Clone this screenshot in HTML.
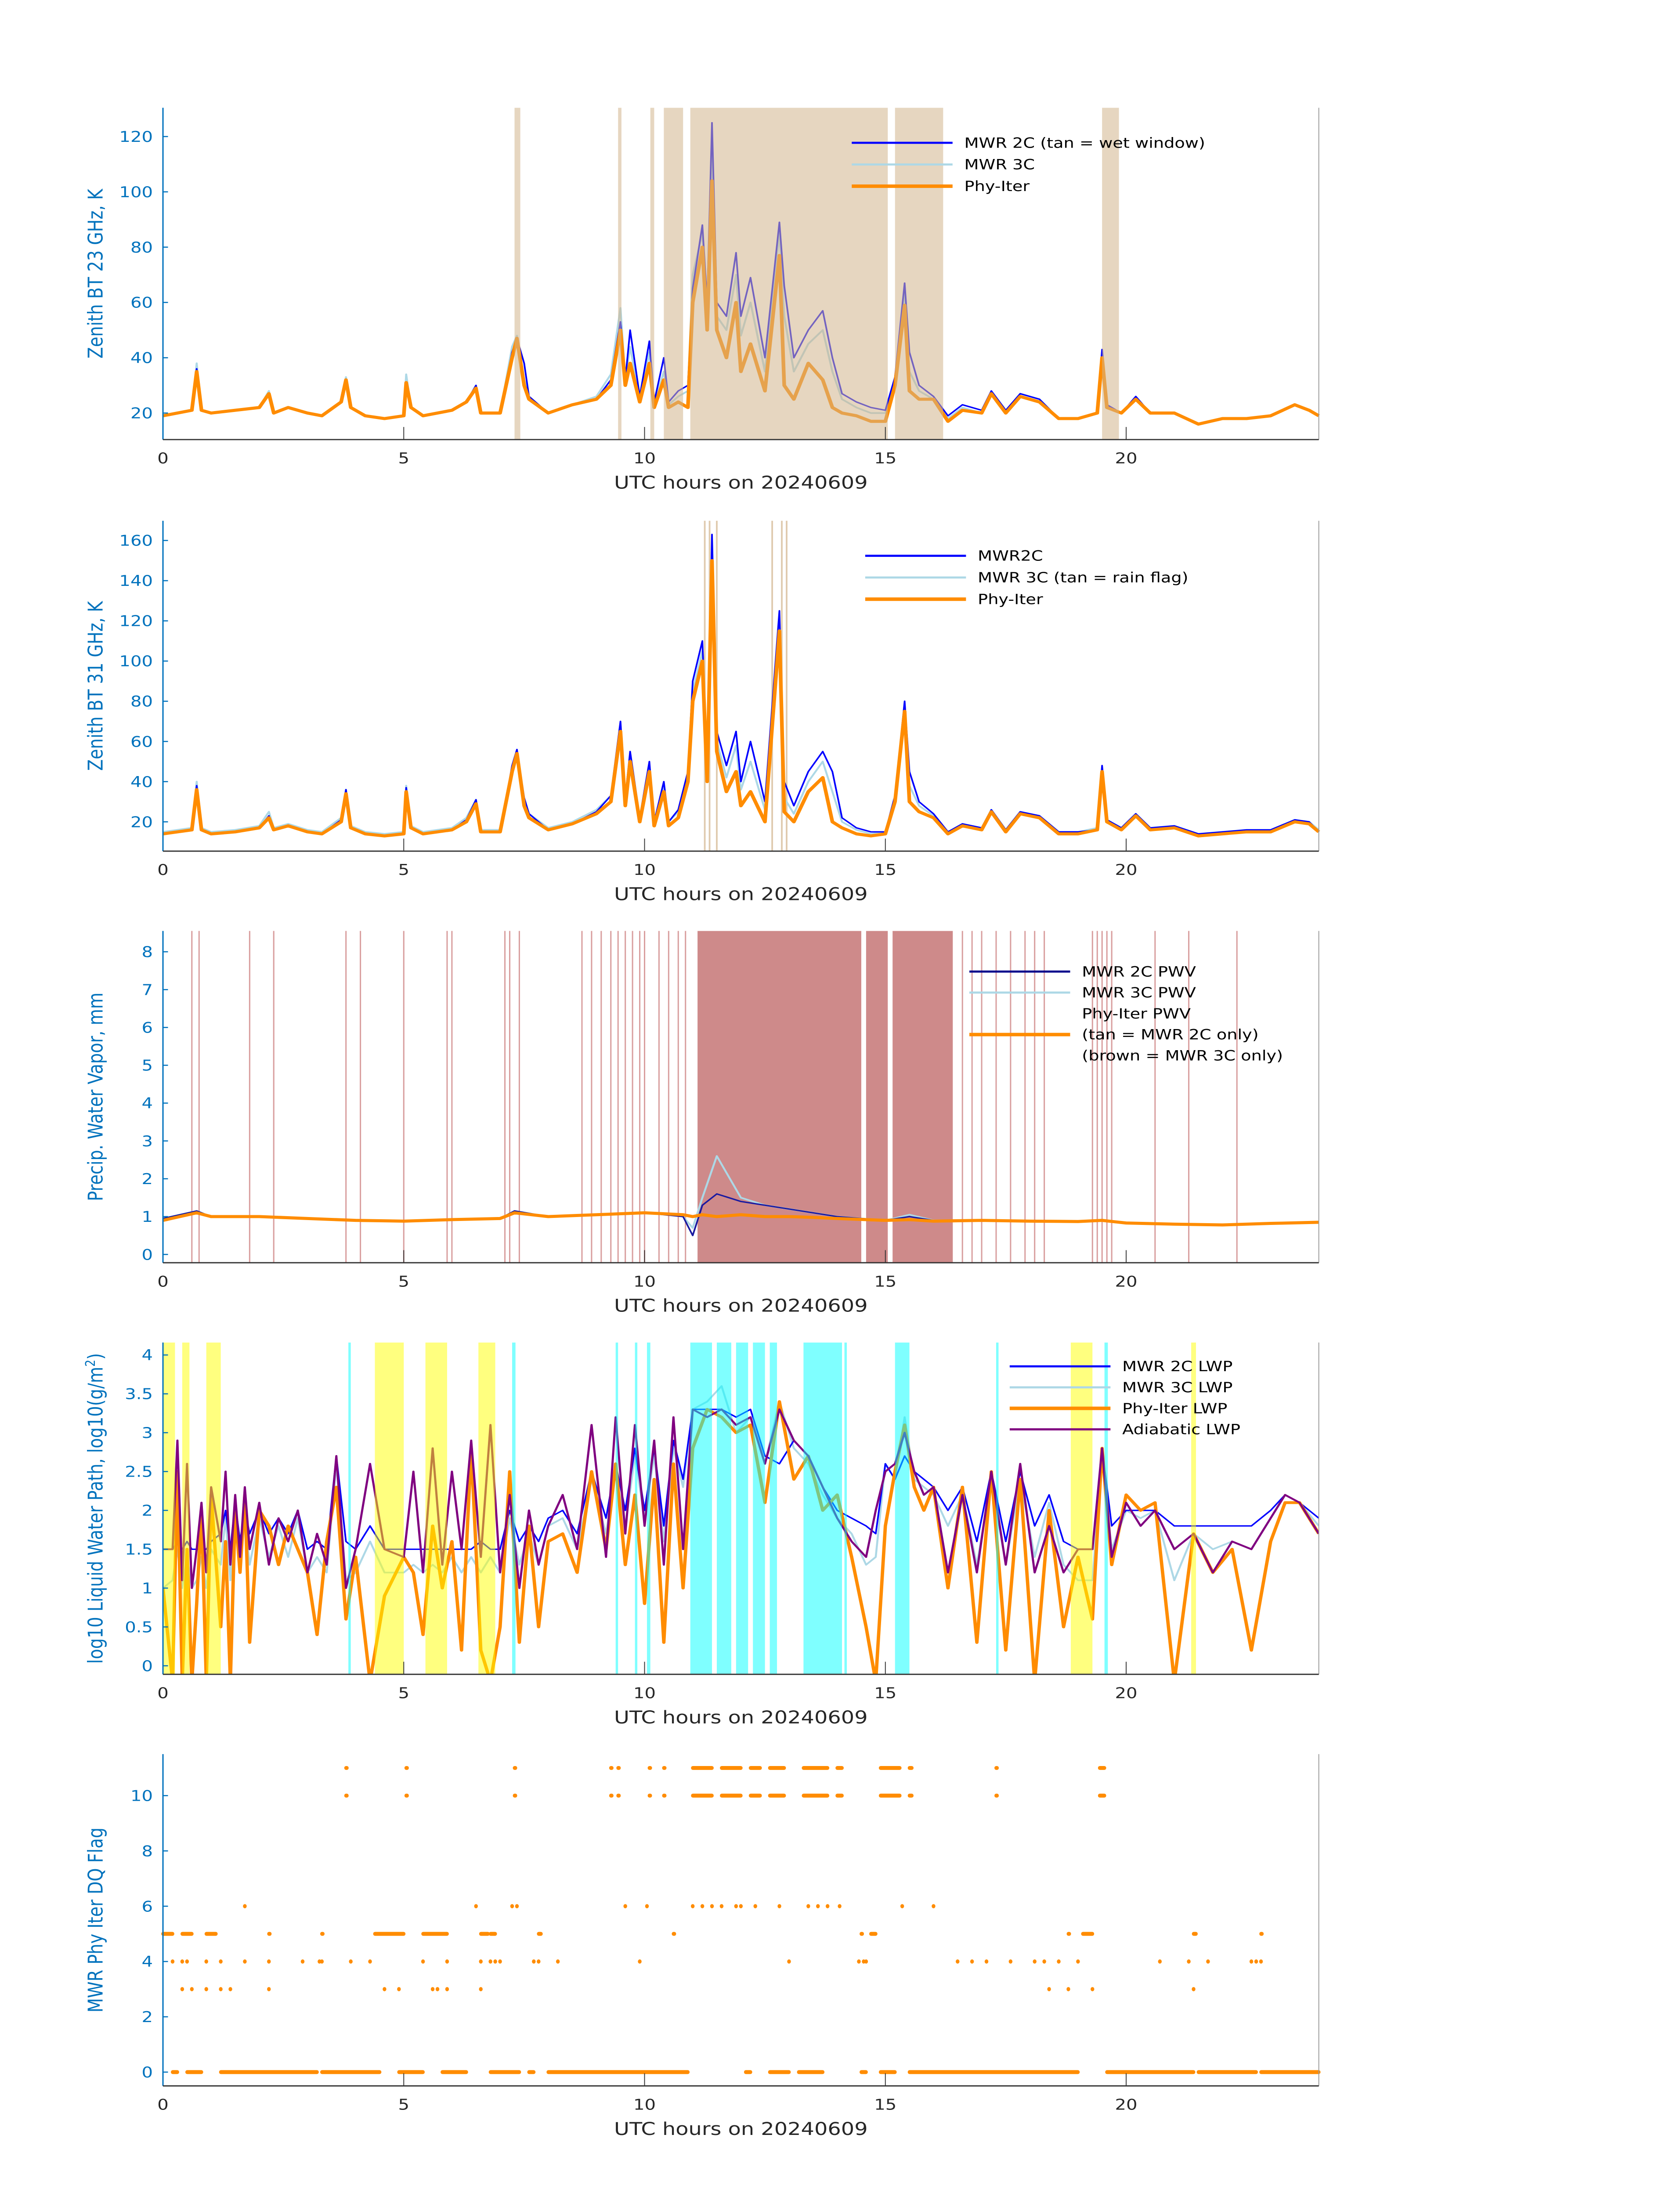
<!DOCTYPE html>
<html><head><meta charset="utf-8"><style>
html,body{margin:0;padding:0;background:#fff;width:100%;height:100%;overflow:hidden;}
svg{display:block;position:fixed;left:0;top:0;width:100vw;height:100vh;font-family:"DejaVu Sans","Liberation Sans",sans-serif;}
</style></head><body>
<svg id="fig" viewBox="0 0 1000 1568.63" preserveAspectRatio="none" xmlns="http://www.w3.org/2000/svg"></svg>
<script>
// ---------- DATA ----------
const hours1 = [0,0.3,0.6,0.7,0.8,1.0,1.5,2.0,2.2,2.3,2.6,3.0,3.3,3.7,3.8,3.9,4.2,4.6,5.0,5.05,5.15,5.4,6.0,6.3,6.5,6.6,7.0,7.25,7.35,7.5,7.6,8.0,8.5,9.0,9.3,9.5,9.6,9.7,9.9,10.1,10.2,10.4,10.5,10.7,10.9,11.0,11.2,11.3,11.4,11.5,11.7,11.9,12.0,12.2,12.5,12.8,12.9,13.1,13.4,13.7,13.9,14.1,14.4,14.7,15.0,15.2,15.4,15.5,15.7,16.0,16.3,16.6,17.0,17.2,17.5,17.8,18.2,18.6,19.0,19.4,19.5,19.6,19.9,20.2,20.5,21.0,21.5,22.0,22.5,23.0,23.5,23.8,24];
const bt23Phy = [19,20,21,35,21,20,21,22,27,20,22,20,19,24,32,22,19,18,19,31,22,19,21,24,29,20,20,40,47,30,25,20,23,25,30,50,30,38,24,38,22,32,22,24,22,60,80,50,104,50,40,60,35,45,28,77,30,25,38,32,22,20,19,17,17,30,59,28,25,25,17,21,20,27,20,26,24,18,18,20,40,22,20,25,20,20,16,18,18,19,23,21,19];
const bt23Mwr2c = [19,20,21,36,21,20,21,22,27,20,22,20,19,24,32,22,19,18,19,31,22,19,21,24,30,20,20,42,47,38,26,20,23,25,32,53,32,50,26,46,24,40,24,28,30,65,88,60,125,60,55,78,55,69,40,89,66,40,50,57,40,27,24,22,21,33,67,42,30,26,19,23,21,28,21,27,25,18,18,20,43,23,20,26,20,20,16,18,18,19,23,21,19];
const bt23Mwr3c = [19,20,21,38,21,20,21,22,28,20,22,20,19,24,33,22,19,18,19,34,22,19,21,24,30,20,20,44,48,32,26,20,23,26,34,58,32,44,25,42,23,35,23,26,28,70,85,55,118,55,50,70,48,60,35,85,55,35,45,50,35,25,22,20,20,32,63,35,28,25,18,22,20,27,20,27,25,18,18,20,42,22,20,25,20,20,16,18,18,19,23,21,19];
const wetWindowStart = [7.3,9.45,10.12,10.4,10.95,15.2,19.5];
const wetWindowEnd = [7.42,9.52,10.2,10.8,15.05,16.2,19.85];

const bt31Phy = [14,15,16,36,16,14,15,17,22,16,18,15,14,20,34,17,14,13,14,35,17,14,16,20,29,15,15,45,54,28,22,16,19,24,30,65,28,50,20,45,18,35,18,22,40,80,100,40,150,55,35,45,28,35,20,115,25,20,35,42,20,17,14,13,14,30,75,30,25,22,14,18,16,25,15,24,22,14,14,16,45,20,16,23,16,17,13,14,15,15,20,19,15];
const bt31Mwr2c = [14,15,16,38,16,14,15,17,23,16,18,15,14,21,36,17,14,13,14,37,17,14,16,21,31,15,15,48,56,32,24,16,19,25,33,70,32,55,22,50,20,40,20,26,45,90,110,50,163,65,48,65,40,60,30,125,40,28,45,55,45,22,17,15,15,33,80,45,30,24,15,19,17,26,16,25,23,15,15,16,48,21,17,24,17,18,14,15,16,16,21,20,15];
const bt31Mwr3c = [15,16,17,40,17,15,16,18,25,17,19,16,15,22,36,18,15,14,15,38,18,15,17,22,31,16,16,47,55,30,24,17,20,26,33,68,30,54,22,48,20,38,20,25,44,85,105,45,155,60,42,58,36,50,26,120,32,24,40,50,35,20,16,14,15,32,77,38,28,23,15,19,17,26,16,25,23,15,15,17,47,21,17,24,17,18,14,15,16,16,21,20,16];
const rainFlagHours = [11.25,11.35,11.5,12.65,12.85,12.95];

const hours3 = [0,0.7,1,2,3,4,5,6,7,7.3,8,9,10,10.8,11,11.2,11.5,12,12.5,13,13.5,14,15,15.5,16,17,18,19,19.5,20,21,22,23,24];
const pwvPhy = [0.9,1.1,1.0,1.0,0.95,0.9,0.88,0.92,0.95,1.1,1.0,1.05,1.1,1.05,1.0,1.05,1.0,1.05,1.0,1.0,0.98,0.95,0.9,0.92,0.88,0.9,0.88,0.87,0.9,0.83,0.8,0.78,0.82,0.85];
const pwv2c = [0.95,1.15,1.0,1.0,0.95,0.9,0.88,0.92,0.95,1.15,1.0,1.05,1.1,1.0,0.5,1.3,1.6,1.4,1.3,1.2,1.1,1.0,0.9,1.0,0.9,0.9,0.88,0.87,0.9,0.83,0.8,0.78,0.82,0.85];
const pwv3c = [0.95,1.15,1.0,1.0,0.95,0.9,0.88,0.92,0.95,1.15,1.0,1.05,1.12,1.0,0.7,1.5,2.6,1.5,1.3,1.2,1.1,1.0,0.9,1.05,0.9,0.9,0.88,0.87,0.92,0.83,0.8,0.78,0.82,0.85];
const brownStart = [11.1,14.6,15.15];
const brownEnd = [14.5,15.05,16.4];
const flagLineHours = [0.6,0.75,1.8,2.3,3.8,4.1,5.0,5.9,6.0,7.1,7.2,7.4,8.7,8.9,9.1,9.3,9.45,9.6,9.75,9.9,10.0,10.3,10.5,10.7,10.85,16.6,16.8,17.0,17.3,17.6,17.9,18.1,18.3,19.3,19.4,19.5,19.6,19.7,20.6,21.3,22.3];

const hours4 = [0,0.2,0.3,0.4,0.5,0.6,0.7,0.8,0.9,1.0,1.2,1.3,1.4,1.5,1.6,1.7,1.8,2.0,2.2,2.4,2.6,2.8,3.0,3.2,3.4,3.6,3.8,4.0,4.3,4.6,5.0,5.2,5.4,5.6,5.8,6.0,6.2,6.4,6.6,6.8,7.0,7.2,7.4,7.6,7.8,8.0,8.3,8.6,8.9,9.2,9.4,9.6,9.8,10.0,10.2,10.4,10.6,10.8,11.0,11.3,11.6,11.9,12.2,12.5,12.8,13.1,13.4,13.7,14.0,14.3,14.6,14.8,15.0,15.2,15.4,15.6,15.8,16.0,16.3,16.6,16.9,17.2,17.5,17.8,18.1,18.4,18.7,19.0,19.3,19.5,19.7,20.0,20.3,20.6,21.0,21.4,21.8,22.2,22.6,23.0,23.3,23.6,24];
const lwpAdiabatic = [1.5,1.5,2.9,1.1,2.6,1.0,1.5,2.1,1.2,2.3,1.6,2.5,1.3,2.2,1.4,2.3,1.5,2.1,1.3,1.9,1.6,2.0,1.2,1.7,1.3,2.7,1.0,1.5,2.6,1.5,1.4,2.5,1.2,2.8,1.3,2.5,1.5,2.9,1.4,3.1,1.2,2.2,1.0,2.0,1.3,1.8,2.2,1.5,3.1,1.4,3.2,1.7,3.1,1.8,2.9,1.3,3.2,1.5,3.3,3.2,3.3,3.1,3.2,2.6,3.3,2.9,2.7,2.3,1.9,1.6,1.4,2.0,2.5,2.6,3.0,2.5,2.2,2.3,1.2,2.2,1.2,2.5,1.3,2.6,1.2,1.8,1.2,1.5,1.5,2.8,1.4,2.1,1.8,2.0,1.5,1.7,1.2,1.6,1.5,1.9,2.2,2.1,1.7];
const lwpPhy = [1.0,-0.2,2.5,-0.2,1.5,-0.2,0.8,2.0,-0.2,2.2,0.5,1.6,-0.2,2.0,1.2,2.2,0.3,2.0,1.8,1.3,1.8,1.5,1.2,0.4,1.6,2.3,0.6,1.4,-0.2,0.9,1.4,1.2,0.4,1.8,1.0,1.6,0.2,2.8,0.2,-0.2,0.5,2.5,0.3,1.8,0.5,1.6,1.7,1.2,2.5,1.5,2.6,1.3,2.2,0.8,2.4,0.3,2.6,1.0,2.8,3.3,3.2,3.0,3.1,2.1,3.4,2.4,2.7,2.0,2.2,1.4,0.5,-0.2,1.8,2.5,3.1,2.3,2.0,2.3,1.0,2.3,0.3,2.5,0.2,2.4,-0.2,2.0,0.5,1.4,0.6,2.8,1.3,2.2,2.0,2.1,-0.2,1.7,1.2,1.5,0.2,1.6,2.1,2.1,1.7];
const lwp2c = [1.5,1.5,1.6,1.5,1.6,1.5,1.5,1.5,1.5,1.6,1.7,2.0,1.5,2.1,1.6,2.0,1.7,2.0,1.7,1.9,1.7,2.0,1.5,1.6,1.5,2.7,1.6,1.5,1.8,1.5,1.5,1.5,1.5,1.5,1.5,1.5,1.5,1.5,1.6,1.5,1.5,2.0,1.6,1.8,1.6,1.9,2.0,1.7,2.5,1.9,2.6,2.0,2.8,2.0,2.8,1.8,2.9,2.4,3.3,3.3,3.3,3.2,3.3,2.7,2.6,2.9,2.7,2.3,2.0,1.9,1.8,1.7,2.6,2.4,2.7,2.5,2.4,2.3,2.0,2.3,1.6,2.5,1.6,2.5,1.8,2.2,1.6,1.5,1.5,2.8,1.8,2.0,2.0,2.0,1.8,1.8,1.8,1.8,1.8,2.0,2.2,2.1,1.9];
const lwp3c = [1.0,1.1,1.5,1.0,1.4,1.0,1.1,1.4,1.0,1.5,1.3,1.9,1.1,2.0,1.3,1.9,1.3,1.9,1.4,1.8,1.4,1.9,1.2,1.4,1.2,2.6,1.1,1.2,1.6,1.2,1.2,1.3,1.2,1.3,1.2,1.4,1.2,1.4,1.2,1.4,1.2,1.9,1.3,1.7,1.3,1.8,1.9,1.5,2.4,1.7,2.5,1.8,2.7,1.9,2.7,1.6,2.8,2.3,3.3,3.4,3.6,3.0,3.2,2.6,3.4,2.8,2.6,2.2,1.9,1.7,1.3,1.4,2.6,2.4,3.2,2.4,2.3,2.2,1.8,2.2,1.3,2.4,1.3,2.4,1.4,2.1,1.3,1.1,1.1,2.7,1.5,2.0,1.9,2.0,1.1,1.7,1.5,1.6,1.5,1.9,2.2,2.1,1.8];
const yellowStart = [0,0.4,0.9,4.4,5.45,6.55,18.85,21.35];
const yellowEnd = [0.25,0.55,1.2,5.0,5.9,6.9,19.3,21.45];
const cyanStart = [3.85,7.25,9.4,9.8,10.05,10.95,11.5,11.9,12.25,12.6,13.3,14.15,15.2,17.3,19.55];
const cyanEnd = [3.9,7.32,9.45,9.85,10.12,11.4,11.8,12.15,12.5,12.75,14.1,14.2,15.5,17.35,19.62];

const flagLevels = [0,3,4,5,6,10,11];
const flag0Start = [0.2,0.5,1.2,3.3,4.9,5.8,6.8,7.6,8.0,12.1,12.6,13.2,14.5,14.9,15.5,19.6,21.5,22.8];
const flag0End = [0.3,0.8,3.2,4.5,5.4,6.3,7.4,7.7,10.9,12.2,13.0,13.7,14.6,15.2,19.0,21.4,22.7,24];
const flag3Hours = [0.4,0.6,0.9,1.2,1.4,2.2,4.6,4.9,5.6,5.7,5.9,6.6,18.4,18.8,19.3,21.4];
const flag4Hours = [0.2,0.4,0.5,0.9,1.2,1.7,2.2,2.9,3.25,3.3,3.9,4.3,5.4,5.9,6.6,6.8,6.9,7.0,7.7,7.8,8.2,9.9,13.0,14.45,14.55,14.6,16.5,16.8,17.1,17.6,18.1,18.3,18.6,19.0,20.7,21.3,21.7,22.6,22.7,22.8];
const flag5Start = [0,0.4,0.9,2.2,3.3,4.4,5.4,6.6,6.8,7.8,10.6,14.5,14.7,18.8,19.1,21.4,22.8];
const flag5End = [0.2,0.6,1.1,2.22,3.32,5.0,5.9,6.75,6.9,7.85,10.62,14.52,14.8,18.82,19.3,21.45,22.82];
const flag6Hours = [1.7,6.5,7.25,7.35,9.6,10.05,11.0,11.2,11.4,11.6,11.9,12.0,12.3,12.8,13.4,13.6,13.8,14.05,15.35,16.0];
const flag10Start = [3.8,5.05,7.3,9.3,9.45,10.1,10.4,11.0,11.6,12.2,12.6,13.3,14.0,14.9,15.5,17.3,19.45];
const flag10End = [3.82,5.07,7.32,9.32,9.47,10.12,10.42,11.4,12.0,12.4,12.9,13.8,14.1,15.3,15.55,17.32,19.55];
const flag11Start = flag10Start;
const flag11End = flag10End;

// ---------- DRAWING ----------
const svg = document.getElementById('fig');
const NS = 'http://www.w3.org/2000/svg';
const X0 = 97, X1 = 785;
function xs(t){ return X0 + t*(X1-X0)/24; }
function mk(tag, attrs, parent){
  const e = document.createElementNS(NS, tag);
  for (const k in attrs) e.setAttribute(k, attrs[k]);
  (parent||svg).appendChild(e);
  return e;
}
function makeY(top,bottom,vTop,vBot){ return v => bottom - (v - vBot)*(bottom-top)/(vTop-vBot); }

function panelFrame(g, top, bottom, ys, ticks, tickLabels, title, pname){
  const ax = mk('line',{x1:X0,y1:top,x2:X0,y2:bottom,stroke:'#0072bd','stroke-width':0.8},g);
  
  
  const rx = mk('line',{x1:X1,y1:top,x2:X1,y2:bottom,stroke:'#999','stroke-width':0.5},g);
  
  
  const bx = mk('line',{x1:X0,y1:bottom,x2:X1,y2:bottom,stroke:'#333','stroke-width':0.9},g);
  
  
  ticks.forEach((v,i)=>{
    const y = ys(v);
    mk('line',{x1:X0,y1:y,x2:X0+3,y2:y,stroke:'#0072bd','stroke-width':0.8},g);
    const t = mk('text',{x:X0-6,y:y+3.8,'font-size':10.5,'text-anchor':'end',fill:'#0072bd'},g);
    t.textContent = tickLabels[i];
    
    
  });
  [0,5,10,15,20].forEach(h=>{
    const x = xs(h);
    if (h>0) mk('line',{x1:x,y1:bottom,x2:x,y2:bottom-9,stroke:'#333','stroke-width':0.5},g);
    const t = mk('text',{x:x,y:bottom+17,'font-size':10.5,'text-anchor':'middle',fill:'#262626'},g);
    t.textContent = String(h);
    
    
  });
  const xl = mk('text',{x:441,y:bottom+35,'font-size':12.5,'text-anchor':'middle',fill:'#262626'},g);
  xl.textContent = 'UTC hours on 20240609';
  
  
  const cy = (top+bottom)/2;
  const yl = mk('text',{x:0,y:0,'font-size':12,'text-anchor':'middle',fill:'#0072bd',transform:`translate(61,${cy}) rotate(-90)`},g);
  yl.innerHTML = title;
  
  
}
function bands(g, starts, ends, top, bottom, color, op, name){
  starts.forEach((s,i)=>{
    const r = mk('rect',{x:xs(s),y:top,width:Math.max(0.8,xs(ends[i])-xs(s)),height:bottom-top,fill:color,opacity:op},g);
    
    
  });
}
function vlines(g, hrs, top, bottom, color, w, op, name){
  hrs.forEach(h=>{
    const l = mk('line',{x1:xs(h),y1:top,x2:xs(h),y2:bottom,stroke:color,'stroke-width':w,opacity:op},g);
    
    
  });
}
function series(g, hrs, vals, ys, color, w, name, op){
  const n = Math.min(hrs.length, vals.length);
  let d = '';
  for (let i=0;i<n;i++) d += (i?'L':'M') + xs(hrs[i]).toFixed(2) + ',' + ys(vals[i]).toFixed(2);
  const p = mk('path',{d:d,fill:'none',stroke:color,'stroke-width':w,'stroke-linejoin':'round',opacity:op||1},g);
  
  
}
function legend(g, x, y0, dy, items, pname){
  items.forEach((it,i)=>{
    const y = y0 + i*dy;
    if (it.c) mk('line',{x1:x,y1:y,x2:x+60,y2:y,stroke:it.c,'stroke-width':it.w},g);
    const t = mk('text',{x:x+67,y:y+3.5,'font-size':10,fill:'#000'},g);
    t.textContent = it.t;
    
    
  });
}
function group(name){ const g = mk('g',{});   return g; }

// Panel 1
(function(){
  const top=77,bottom=314, g=group('panel-bt23');
  const ys = makeY(top,bottom,130.4,10.4);
  series(g,hours1,bt23Mwr3c,ys,'#add8e6',1.2,'mwr3c-bt23-line');
  series(g,hours1,bt23Mwr2c,ys,'#0000ff',1,'mwr2c-bt23-line');
  series(g,hours1,bt23Phy,ys,'#ff8c00',2.2,'phy-iter-bt23-line');
  bands(g,wetWindowStart,wetWindowEnd,top,bottom,'#d2b48c',0.55,'wet-window-band');
  panelFrame(g,top,bottom,ys,[20,40,60,80,100,120],['20','40','60','80','100','120'],'Zenith BT 23 GHz, K','bt23');
  legend(g,507,102,15.5,[{c:'#0000ff',w:1.5,t:'MWR 2C (tan = wet window)'},{c:'#add8e6',w:1.5,t:'MWR 3C'},{c:'#ff8c00',w:2.5,t:'Phy-Iter'}],'bt23');
})();
// Panel 2
(function(){
  const top=372,bottom=608, g=group('panel-bt31');
  const ys = makeY(top,bottom,169.8,5.4);
  vlines(g,rainFlagHours,top,bottom,'#d2b48c',1,0.7,'rain-flag-line');
  series(g,hours1,bt31Mwr3c,ys,'#add8e6',1.2,'mwr3c-bt31-line');
  series(g,hours1,bt31Mwr2c,ys,'#0000ff',1,'mwr2c-bt31-line');
  series(g,hours1,bt31Phy,ys,'#ff8c00',2.2,'phy-iter-bt31-line');
  panelFrame(g,top,bottom,ys,[20,40,60,80,100,120,140,160],['20','40','60','80','100','120','140','160'],'Zenith BT 31 GHz, K','bt31');
  legend(g,515,397,15.5,[{c:'#0000ff',w:1.5,t:'MWR2C'},{c:'#add8e6',w:1.5,t:'MWR 3C (tan = rain flag)'},{c:'#ff8c00',w:2.5,t:'Phy-Iter'}],'bt31');
})();
// Panel 3
(function(){
  const top=665,bottom=902, g=group('panel-pwv');
  const ys = makeY(top,bottom,8.55,-0.22);
  bands(g,brownStart,brownEnd,top,bottom,'#a52a2a',0.55,'mwr3c-only-band');
  vlines(g,flagLineHours,top,bottom,'#c06060',0.8,0.6,'pwv-flag-line');
  series(g,hours3,pwv3c,ys,'#add8e6',1.2,'mwr3c-pwv-line');
  series(g,hours3,pwv2c,ys,'#1a1aa0',1,'mwr2c-pwv-line');
  series(g,hours3,pwvPhy,ys,'#ff8c00',2.2,'phy-iter-pwv-line');
  panelFrame(g,top,bottom,ys,[0,1,2,3,4,5,6,7,8],['0','1','2','3','4','5','6','7','8'],'Precip. Water Vapor, mm','pwv');
  legend(g,577,694,15,[{c:'#00008b',w:1.5,t:'MWR 2C PWV'},{c:'#add8e6',w:1.5,t:'MWR 3C PWV'},{c:null,t:'Phy-Iter PWV'},{c:'#ff8c00',w:2.5,t:'(tan = MWR 2C only)'},{c:null,t:'(brown = MWR 3C only)'}],'pwv');
})();
// Panel 4
(function(){
  const top=959,bottom=1196, g=group('panel-lwp');
  const ys = makeY(top,bottom,4.16,-0.11);
  const cp = mk('clipPath',{id:'c4'},g); mk('rect',{x:X0,y:top,width:X1-X0,height:bottom-top},cp);
  const inner = mk('g',{'clip-path':'url(#c4)'},g);
  
  series(inner,hours4,lwp3c,ys,'#add8e6',1.2,'mwr3c-lwp-line');
  series(inner,hours4,lwp2c,ys,'#0000ff',1,'mwr2c-lwp-line');
  series(inner,hours4,lwpPhy,ys,'#ff8c00',2,'phy-iter-lwp-line');
  series(inner,hours4,lwpAdiabatic,ys,'#800080',1.3,'adiabatic-lwp-line');
  bands(g,yellowStart,yellowEnd,top,bottom,'#ffff00',0.5,'yellow-flag-band');
  bands(g,cyanStart,cyanEnd,top,bottom,'#00ffff',0.5,'cyan-flag-band');
  panelFrame(g,top,bottom,ys,[0,0.5,1,1.5,2,2.5,3,3.5,4],['0','0.5','1','1.5','2','2.5','3','3.5','4'],'log10 Liquid Water Path, log10(g/m<tspan baseline-shift="super" font-size="8">2</tspan>)','lwp');
  legend(g,601,976,15,[{c:'#0000ff',w:1.5,t:'MWR 2C LWP'},{c:'#add8e6',w:1.5,t:'MWR 3C LWP'},{c:'#ff8c00',w:2.5,t:'Phy-Iter LWP'},{c:'#800080',w:1.5,t:'Adiabatic LWP'}],'lwp');
})();
// Panel 5
(function(){
  const top=1253,bottom=1490, g=group('panel-dq-flag');
  const ys = makeY(top,bottom,11.5,-0.5);
  function seg(s,e,lvl,name){ s.forEach((a,i)=>{ const r=mk('rect',{x:xs(a)-1,y:ys(lvl)-1.4,width:Math.max(2,xs(e[i])-xs(a)+2),height:2.8,rx:1.2,fill:'#ff8c00'},g);   }); }
  function dots(h,lvl,name){ h.forEach(a=>{ const c=mk('ellipse',{cx:xs(a),cy:ys(lvl),rx:1.1,ry:1.5,fill:'#ff8c00'},g);   }); }
  seg(flag0Start,flag0End,flagLevels[0],'flag-0-points');
  dots(flag3Hours,flagLevels[1],'flag-3-point');
  dots(flag4Hours,flagLevels[2],'flag-4-point');
  seg(flag5Start,flag5End,flagLevels[3],'flag-5-points');
  dots(flag6Hours,flagLevels[4],'flag-6-point');
  seg(flag10Start,flag10End,flagLevels[5],'flag-10-points');
  seg(flag11Start,flag11End,flagLevels[6],'flag-11-points');
  panelFrame(g,top,bottom,ys,[0,2,4,6,8,10],['0','2','4','6','8','10'],'MWR Phy Iter DQ Flag','dq');
})();
</script>
</body></html>
